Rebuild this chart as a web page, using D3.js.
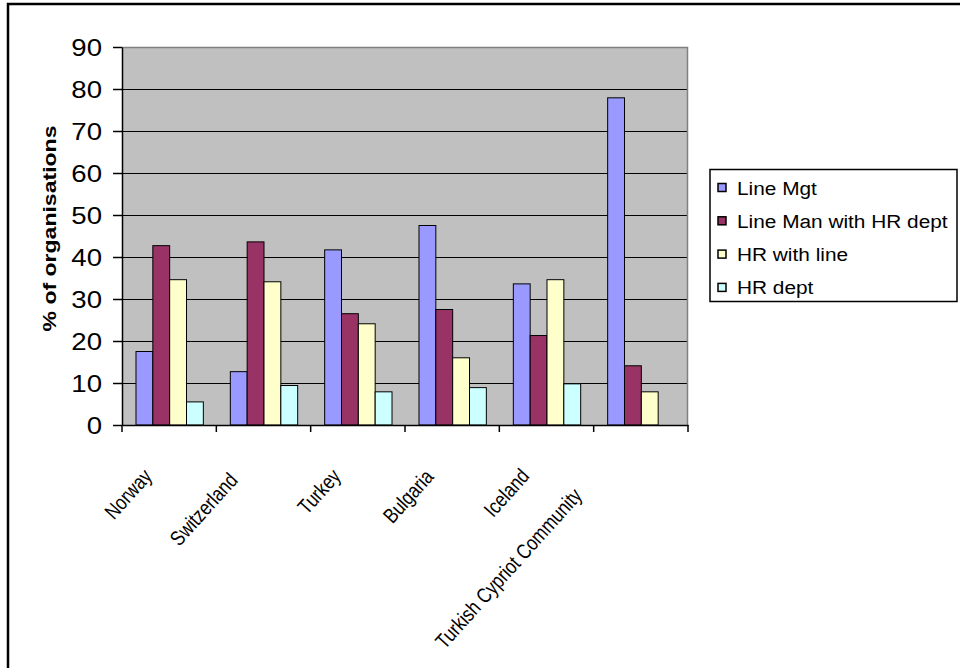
<!DOCTYPE html>
<html>
<head>
<meta charset="utf-8">
<script src="https://cdn.jsdelivr.net/npm/d3@7/dist/d3.min.js"></script>
<style>
  html, body { margin: 0; padding: 0; background: #fff; }
  svg { display: block; font-family: "Liberation Sans", Arial, sans-serif; }
</style>
</head>
<body>
<svg id="chart" width="960" height="668"></svg>
<script>
// ---- data ----
const categories = ["Norway", "Switzerland", "Turkey", "Bulgaria", "Iceland", "Turkish Cypriot Community"];
const seriesNames = ["Line Mgt", "Line Man with HR dept", "HR with line", "HR dept"];
const lineMgt     = [17.5, 12.7, 41.7, 47.5, 33.6, 77.9];
const lineManHR   = [42.7, 43.6, 26.5, 27.5, 21.3, 14.1];
const hrWithLine  = [34.6, 34.1, 24.1, 16.0, 34.6, 7.9];
const hrDept      = [5.5, 9.4, 7.9, 8.9, 9.8, 0];
const yTicks = [0, 10, 20, 30, 40, 50, 60, 70, 80, 90];
const yTitle = "% of organisations";

// ---- styles ----
const colors = ["#9999FF", "#993366", "#FFFFCC", "#CCFFFF"];
const seriesValues = [lineMgt, lineManHR, hrWithLine, hrDept];

const svg = d3.select("#chart");
const plot = { left: 122, right: 688, top: 47, bottom: 425 };

// outer frame (extends past the picture on right/bottom)
svg.append("rect").attr("x", 8).attr("y", 4).attr("width", 1000).attr("height", 1000)
  .attr("fill", "#fff").attr("stroke", "#000").attr("stroke-width", 2.5);

const x0 = d3.scaleBand().domain(categories).range([plot.left, plot.right]).padding(0);
const x1 = d3.scaleBand().domain(seriesNames)
  .range([x0.step() * 0.143, x0.step() * 0.857]).padding(0);
const y = d3.scaleLinear().domain([0, 90]).range([plot.bottom, plot.top]);

// plot area
svg.append("rect").attr("x", plot.left).attr("y", plot.top)
  .attr("width", plot.right - plot.left).attr("height", plot.bottom - plot.top)
  .attr("fill", "#C0C0C0");

// gridlines
svg.append("g").selectAll("line").data(yTicks.filter(t => t > 0 && t < 90)).join("line")
  .attr("x1", plot.left).attr("x2", plot.right)
  .attr("y1", d => Math.round(y(d)) + 0.5).attr("y2", d => Math.round(y(d)) + 0.5)
  .attr("stroke", "#000").attr("stroke-width", 1);

// plot border top/right (grey)
svg.append("path")
  .attr("d", `M${plot.left},${plot.top + 0.5}H${plot.right - 0.5}V${plot.bottom}`)
  .attr("fill", "none").attr("stroke", "#808080").attr("stroke-width", 1.5);

// bars
const rows = categories.map((c, i) => ({ cat: c, vals: seriesNames.map((s, j) => ({ s, j, v: seriesValues[j][i] })) }));
const groups = svg.append("g").selectAll("g").data(rows).join("g")
  .attr("transform", d => `translate(${x0(d.cat)},0)`);
groups.selectAll("rect").data(d => d.vals.filter(v => v.v > 0)).join("rect")
  .attr("x", d => x1(d.s) + 0.5)
  .attr("y", d => y(d.v))
  .attr("width", x1.bandwidth())
  .attr("height", d => y(0) - y(d.v))
  .attr("fill", d => colors[d.j])
  .attr("stroke", "#000").attr("stroke-width", 1);

// y axis
const yAxis = svg.append("g").attr("transform", `translate(${plot.left},0)`)
  .call(d3.axisLeft(y).tickValues(yTicks).tickSize(9).tickSizeOuter(0));
yAxis.select(".domain").attr("stroke", "#000").attr("stroke-width", 1.5);
yAxis.selectAll(".tick line").attr("stroke", "#000").attr("stroke-width", 1.5);
yAxis.selectAll(".tick text")
  .attr("font-size", 23).attr("fill", "#000")
  .attr("font-family", "'Liberation Sans', Arial, sans-serif")
  .attr("transform", "scale(1.2,1)")
  .attr("x", -20 / 1.2).attr("dy", "0.36em");

// x axis (line + boundary ticks)
const xAxis = svg.append("g").attr("transform", `translate(0,${plot.bottom})`)
  .call(d3.axisBottom(x0).tickSize(0).tickSizeOuter(0));
xAxis.select(".domain").attr("stroke", "#000").attr("stroke-width", 1.5);
const bounds = d3.range(categories.length + 1).map(i => plot.left + i * x0.step());
xAxis.append("g").selectAll("line").data(bounds).join("line")
  .attr("x1", d => d).attr("x2", d => d).attr("y1", 0).attr("y2", 7)
  .attr("stroke", "#000").attr("stroke-width", 1.5);
const labelSquash = 0.82;
xAxis.selectAll(".tick text")
  .attr("font-size", 21).attr("fill", "#000")
  .attr("font-family", "'Liberation Sans', Arial, sans-serif")
  .attr("text-anchor", "end").attr("dy", 0).attr("y", 0)
  .attr("transform", function () {
    const L = this.getComputedTextLength() * labelSquash;
    const extra = Math.max(0, L - 58);
    return `translate(${-16 - extra * 0.28},${52 + extra * 0.13}) rotate(-48) scale(${labelSquash},1)`;
  });

// y title
svg.append("text")
  .attr("transform", `translate(56,${(plot.top + plot.bottom) / 2 - 7.5}) rotate(-90) scale(1.28,1)`)
  .attr("text-anchor", "middle").attr("font-weight", "bold").attr("font-size", 18)
  .text(yTitle);

// legend
const lg = svg.append("g");
lg.append("rect").attr("x", 710).attr("y", 169.5).attr("width", 247).attr("height", 132)
  .attr("fill", "#fff").attr("stroke", "#000").attr("stroke-width", 1.5);
const items = lg.selectAll("g.item").data(seriesNames).join("g").attr("class", "item")
  .attr("transform", (d, i) => `translate(718,${194.5 + i * 33.3})`);
items.append("rect").attr("x", 0).attr("y", -11).attr("width", 8).attr("height", 8)
  .attr("fill", (d, i) => colors[i]).attr("stroke", "#000").attr("stroke-width", 1.5);
items.append("text").attr("x", 19 / 1.12).attr("y", 0)
  .attr("transform", "scale(1.12,1)")
  .attr("font-size", 18.6).attr("fill", "#000")
  .text(d => d);
</script>
</body>
</html>
